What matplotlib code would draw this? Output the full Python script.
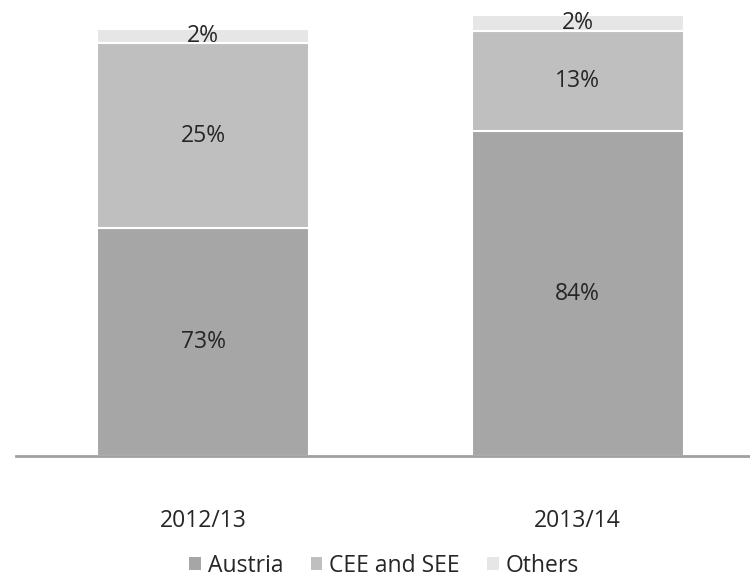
import matplotlib
matplotlib.use('Agg')
import matplotlib.pyplot as plt
from matplotlib.patches import Patch

# ================================
# Data (segment heights, labels as printed)
# ================================
years = ['2012/13', '2013/14']
series = ['Austria', 'CEE and SEE', 'Others']
austria = [228, 325]
cee_see = [185, 100]
others = [14, 16]
austria_lbl = ['73%', '84%']
cee_see_lbl = ['25%', '13%']
others_lbl = ['2%', '2%']

colors = ['#a6a6a6', '#bfbfbf', '#e6e6e6']
txt_col = '#262626'

plt.rcParams['font.family'] = ['Open Sans', 'DejaVu Sans']

fig = plt.figure(figsize=(7.5, 5.78), dpi=100)
ax = fig.add_axes([16 / 750, 122 / 578, 734 / 750, 456 / 578])

x = list(range(len(years)))
width = 0.565
bottom = [0] * len(years)
for vals, lbls, col in zip([austria, cee_see, others],
                           [austria_lbl, cee_see_lbl, others_lbl], colors):
    bars = ax.bar(x, vals, width, bottom=bottom, color=col,
                  edgecolor='white', linewidth=1.5)
    for b, lbl in zip(bars, lbls):
        ax.text(b.get_x() + b.get_width() / 2, b.get_y() + b.get_height() / 2,
                lbl, ha='center', va='center', fontsize=16.5, color=txt_col)
    bottom = [bt + v for bt, v in zip(bottom, vals)]

ax.set_xlim(-0.5, 1.46)
ax.set_ylim(0, 456)
ax.set_xticks(x)
ax.set_xticklabels(years, fontsize=16.5, color=txt_col)
ax.tick_params(axis='x', length=0, pad=38)
ax.set_yticks([])
for s in ['top', 'right', 'left']:
    ax.spines[s].set_visible(False)
ax.spines['bottom'].set_color('#a0a0a0')
ax.spines['bottom'].set_linewidth(2)

handles = [Patch(facecolor=c, edgecolor='none', label=l) for c, l in zip(colors, series)]
fig.legend(handles=handles, loc='center', bbox_to_anchor=(384 / 750, 1 - 566 / 578),
           ncol=3, frameon=False, fontsize=16.5, handlelength=0.5, handleheight=0.5,
           handletextpad=0.3, columnspacing=1.2, labelcolor=txt_col,
           borderpad=0.2)

fig.savefig('out.png', dpi=100)
